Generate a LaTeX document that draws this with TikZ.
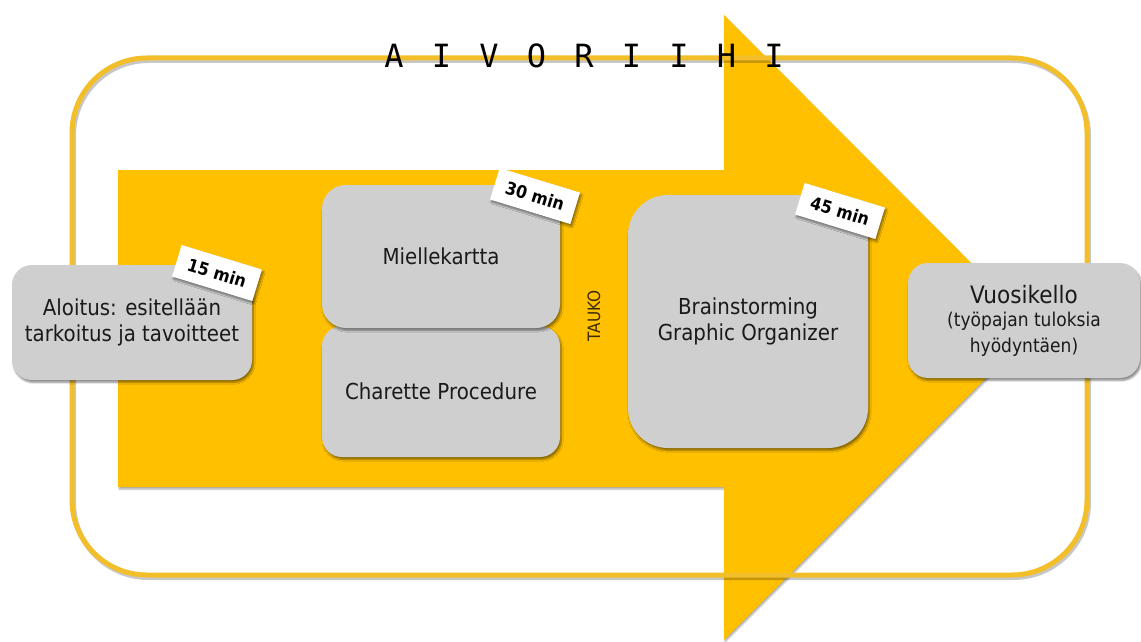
\documentclass[tikz,border=0pt]{standalone}
\usepackage{fontspec}
\usetikzlibrary{shadows.blur}
\newfontfamily\bodyfont{DejaVu Sans}[FakeStretch=0.9]
\newfontfamily\titlefont{DejaVu Sans Mono}[LetterSpace=28]

\definecolor{gold}{HTML}{FFC000}
\definecolor{rim}{HTML}{F2BF2A}
\definecolor{card}{HTML}{D0CFCF}
\definecolor{ink}{HTML}{1A1A1A}
\definecolor{breakink}{HTML}{3A2C00}

\tikzset{
  softshadow/.style={blur shadow={shadow xshift=1.5pt, shadow yshift=-2.5pt,
      shadow opacity=45, shadow blur steps=6}},
  card/.style={fill=card, rounded corners=#1, softshadow, align=center,
      text=ink, inner sep=0pt,
      font=\bodyfont\fontsize{22}{26}\selectfont},
  tag/.style={fill=white, minimum width=84pt, minimum height=33pt, inner sep=0pt,
      text=black, softshadow, rotate=-17,
      font=\bodyfont\bfseries\fontsize{17.5}{19}\selectfont},
}

\begin{document}
\begin{tikzpicture}[x=1pt, y=-1pt]
\useasboundingbox (0,0) rectangle (1141,642);

% big process arrow
\fill[gold, blur shadow={shadow xshift=1pt, shadow yshift=-2pt,
      shadow opacity=35, shadow blur steps=5}]
  (118,170) -- (724,170) -- (724,15) -- (1036,328) -- (724,640)
  -- (724,487) -- (118,487) -- cycle;

% rounded frame with its shadow
\draw[black, opacity=.22, line width=5pt, rounded corners=75pt, shift={(1.5,2.5)}]
  (72,58) rectangle (1087,575);
\draw[rim, line width=5pt, rounded corners=75pt] (72,58) rectangle (1087,575);

% workshop steps
\node[card=20pt, minimum width=238pt, minimum height=131pt] (charette)
  at (441,391.5) {Charette Procedure};
\node[card=24pt, minimum width=238pt, minimum height=143pt] (miel)
  at (441,256.5) {Miellekartta};
\node[card=20pt, minimum width=240pt, minimum height=115pt] (aloitus)
  at (132,322.5) {Aloitus: esitellään\\tarkoitus ja tavoitteet};
\node[card=40pt, minimum width=240pt, minimum height=253pt] (brain)
  at (748,321.5) {Brainstorming\\Graphic Organizer};
\node[card=20pt, minimum width=232pt, minimum height=115pt] (vuosi)
  at (1024,320.5) {\fontsize{24}{26}\selectfont Vuosikello\\[-3pt]
  \fontsize{19}{23}\selectfont (työpajan tuloksia\\
  \fontsize{19}{23}\selectfont hyödyntäen)};

% durations
\node[tag] (t15) at (217,273) {15 min};
\node[tag] (t30) at (535,196) {30 min};
\node[tag] (t45) at (840,211) {45 min};

% break marker
\node[rotate=90, text=breakink, font=\bodyfont\fontsize{17}{17}\selectfont]
  (tauko) at (594,316) {TAUKO};

% title
\node[anchor=base, text=black, font=\titlefont\fontsize{32}{32}\selectfont]
  (title) at (584,68) {A I V O R I I H I};
\end{tikzpicture}
\end{document}
